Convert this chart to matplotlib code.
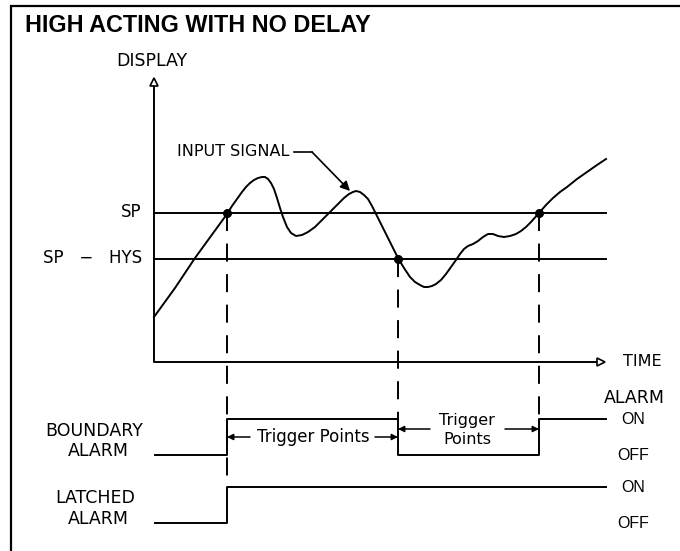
import matplotlib
matplotlib.use('Agg')
import matplotlib.pyplot as plt

plt.rcParams['lines.scale_dashes'] = False

# diagram coordinates (x to the right, y downward, same scale as the 680x551 picture)
signal_x = [154, 175, 195, 211, 227, 232, 237, 242, 246, 250, 254, 258, 262, 265, 268, 271,
            274, 277, 280, 283, 287, 291, 296, 302, 308, 315, 322, 330, 338, 344, 349, 353,
            356, 360, 364, 368, 372, 377, 382, 388, 393, 398, 404, 410, 415, 420, 424, 428,
            432, 436, 441, 446, 451, 456, 460, 464, 468, 473, 478, 483, 488, 493, 498, 504,
            510, 516, 521, 526, 531, 539, 546, 553, 560, 567, 577, 587, 597, 606]
signal_y = [317, 288, 258, 236, 214, 206, 199, 192, 187, 183, 180, 178, 177, 177, 179, 183,
            189, 198, 208, 217, 227, 233, 236, 235, 232, 227, 220, 212, 204, 198, 194, 192,
            191, 192, 195, 199, 206, 216, 226, 238, 248, 258, 268, 277, 282, 285, 287, 287,
            286, 284, 280, 274, 267, 260, 254, 249, 246, 244, 241, 237, 234, 234, 236, 237,
            236, 234, 231, 227, 222, 213, 205, 198, 192, 187, 179, 172, 165, 159]

sp_level = 213
hys_level = 259
level_labels = ['SP', 'SP   \u2212   HYS']
trigger_x = [227, 398, 539]
trigger_y = [213, 259, 213]
dash_end = [480, 419, 419]

# alarm outputs: edges (x) and state levels (y)
boundary_x = [155, 227, 227, 398, 398, 539, 539, 606]
boundary_y = [455, 455, 419, 419, 455, 455, 419, 419]
latched_x = [155, 227, 227, 606]
latched_y = [523, 523, 487, 487]
state_labels = ['ON', 'OFF', 'ON', 'OFF']
state_y = [419, 455, 487, 523]

fig = plt.figure(figsize=(6.8, 5.51), dpi=100)
ax = fig.add_axes([0, 0, 1, 1])
ax.set_xlim(0, 680)
ax.set_ylim(551, 0)
ax.axis('off')

cad = 'DejaVu Sans'
narrow = 'Liberation Sans'
lw = 1.4

# frame
ax.plot([11, 11, 680], [551, 6, 6], color='black', lw=1.6, solid_joinstyle='miter')
ax.text(25, 26, 'HIGH ACTING WITH NO DELAY', family=narrow, weight='bold',
        fontsize=16.8, va='center', ha='left')

# axes of the diagram
ax.plot([154, 154, 600], [84, 362, 362], color='black', lw=lw)
ax.plot(154, 82, marker='^', ms=6, mfc='white', mec='black', mew=1.2)
ax.plot(601, 362, marker='>', ms=6, mfc='white', mec='black', mew=1.2)
ax.text(152, 61, 'DISPLAY', family=cad, fontsize=12.5, ha='center', va='center')
ax.text(623, 362, 'TIME', family=cad, fontsize=11.5, ha='left', va='center')

# set point levels
for lvl, lab in zip([sp_level, hys_level], level_labels):
    ax.plot([154, 606], [lvl, lvl], color='black', lw=lw)
    ax.text(142, lvl - 1, lab, family=cad, fontsize=12, ha='right', va='center')

# input signal
ax.plot(signal_x, signal_y, color='black', lw=lw, solid_joinstyle='round')
ax.text(177, 152, 'INPUT SIGNAL', family=cad, fontsize=11.5, ha='left', va='center')
ax.plot([294, 312], [152, 152], color='black', lw=1.2)
ax.annotate('', xy=(350, 191), xytext=(312, 152),
            arrowprops=dict(arrowstyle='-|>', color='black', lw=1.2,
                            mutation_scale=14, shrinkA=0, shrinkB=0))

# trigger points
for tx, ty, ye in zip(trigger_x, trigger_y, dash_end):
    ax.plot([tx, tx], [ty, ye], color='black', lw=lw, dashes=(13, 9))
ax.scatter(trigger_x, trigger_y, s=30, color='black', zorder=5)

# alarm traces
ax.plot(boundary_x, boundary_y, color='black', lw=lw)
ax.plot(latched_x, latched_y, color='black', lw=lw)

ax.text(94, 431, 'BOUNDARY', family=cad, fontsize=12.5, ha='center', va='center')
ax.text(98, 451, 'ALARM', family=cad, fontsize=12.5, ha='center', va='center')
ax.text(95, 498, 'LATCHED', family=cad, fontsize=12.5, ha='center', va='center')
ax.text(98, 519, 'ALARM', family=cad, fontsize=12.5, ha='center', va='center')

ax.text(634, 398, 'ALARM', family=cad, fontsize=12.5, ha='center', va='center')
for lab, sy in zip(state_labels, state_y):
    ax.text(633, sy, lab, family=narrow, fontsize=11.5, ha='center', va='center')

# trigger point spans
arrow = dict(arrowstyle='-|>', color='black', lw=1.1, mutation_scale=9, shrinkA=0, shrinkB=0)
ax.annotate('', xy=(227, 437), xytext=(250, 437), arrowprops=arrow)
ax.annotate('', xy=(398, 437), xytext=(375, 437), arrowprops=arrow)
ax.text(313, 437, 'Trigger Points', family=cad, fontsize=12, ha='center', va='center')
ax.annotate('', xy=(398, 429), xytext=(430, 429), arrowprops=arrow)
ax.annotate('', xy=(539, 429), xytext=(505, 429), arrowprops=arrow)
ax.text(467, 421, 'Trigger', family=cad, fontsize=11.5, ha='center', va='center')
ax.text(467, 439, 'Points', family=cad, fontsize=11.5, ha='center', va='center')

fig.savefig('out.png', dpi=100)
